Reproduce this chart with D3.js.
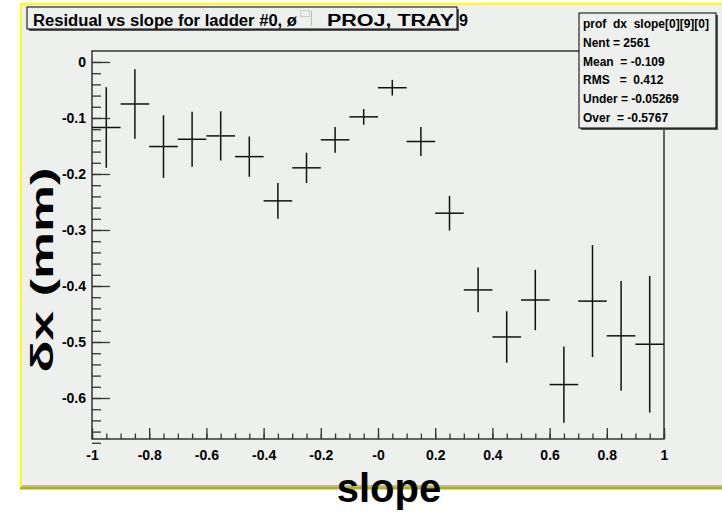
<!DOCTYPE html>
<html>
<head>
<meta charset="utf-8">
<script src="https://cdn.jsdelivr.net/npm/d3@7"></script>
<style>
  body { margin: 0; background: #fff; }
  svg text { font-family: "Liberation Sans", Arial, sans-serif; font-weight: bold; }
</style>
</head>
<body>
<div class="chart"></div>
<script>
// profile bins: slope from -1 to 1, 20 bins
const binCenters = [-0.95, -0.85, -0.75, -0.65, -0.55, -0.45, -0.35, -0.25, -0.15, -0.05,
                    0.05, 0.15, 0.25, 0.35, 0.45, 0.55, 0.65, 0.75, 0.85, 0.95];
const binMeans = [-0.117, -0.075, -0.151, -0.138, -0.132, -0.169, -0.248, -0.189, -0.139, -0.098,
                  -0.046, -0.142, -0.270, -0.407, -0.491, -0.425, -0.576, -0.427, -0.489, -0.504];
const binErrors = [0.072, 0.062, 0.056, 0.049, 0.044, 0.036, 0.032, 0.027, 0.023, 0.014,
                   0.014, 0.026, 0.031, 0.040, 0.046, 0.054, 0.068, 0.100, 0.098, 0.122];
const binHalfWidth = 0.05;

const xTicks = [-1, -0.8, -0.6, -0.4, -0.2, 0, 0.2, 0.4, 0.6, 0.8, 1];
const xTickLabels = ['-1', '-0.8', '-0.6', '-0.4', '-0.2', '-0', '0.2', '0.4', '0.6', '0.8', '1'];
const yTicks = [0, -0.1, -0.2, -0.3, -0.4, -0.5, -0.6];
const yTickLabels = ['0', '-0.1', '-0.2', '-0.3', '-0.4', '-0.5', '-0.6'];

const statsLines = ['prof  dx  slope[0][9][0]', 'Nent = 2561', 'Mean  = -0.109',
                    'RMS   =  0.412', 'Under = -0.05269', 'Over  = -0.5767'];

const W = 722, H = 512;
const bg = '#edf0ed';

const svg = d3.select('.chart').append('svg')
    .attr('width', W).attr('height', H);

// canvas background and its yellow edges
svg.append('rect').attr('x', 22).attr('y', 5).attr('width', W - 22).attr('height', 481).attr('fill', bg);
svg.append('rect').attr('x', 20).attr('y', 3).attr('width', W - 20).attr('height', 2).attr('fill', '#ffff00');
svg.append('rect').attr('x', 20).attr('y', 3).attr('width', 2).attr('height', 484).attr('fill', '#ffff00');
svg.append('rect').attr('x', 22).attr('y', 485).attr('width', W - 22).attr('height', 2).attr('fill', '#b8b8b0');
svg.append('rect').attr('x', 20).attr('y', 487).attr('width', W - 20).attr('height', 2.5).attr('fill', '#b4b400');

const x = d3.scaleLinear().domain([-1, 1]).range([92, 664]);
const y = d3.scaleLinear().domain([-0.6732, 0.0196]).range([439, 51]);

// frame
svg.append('rect')
    .attr('x', x(-1)).attr('y', y.range()[1])
    .attr('width', x(1) - x(-1)).attr('height', y.range()[0] - y.range()[1])
    .attr('fill', bg).attr('stroke', '#333').attr('stroke-width', 1.5);

// minor ticks
const xMinor = d3.range(-1, 1.0001, 0.05);
const yMinor = d3.range(0.02, -0.6801, -0.02);

svg.append('g')
    .attr('transform', `translate(0,${y.range()[0]})`)
    .call(d3.axisBottom(x).tickValues(xMinor).tickSize(-5.5).tickSizeOuter(0).tickFormat(''))
    .call(g => g.select('.domain').remove());
svg.append('g')
    .attr('transform', `translate(${x(-1)},0)`)
    .call(d3.axisLeft(y).tickValues(yMinor.filter(v => v <= 0.0196)).tickSize(-9).tickSizeOuter(0).tickFormat(''))
    .call(g => g.select('.domain').remove());

// major ticks + labels
const xAxis = svg.append('g')
    .attr('transform', `translate(0,${y.range()[0]})`)
    .call(d3.axisBottom(x).tickValues(xTicks).tickSize(-11).tickSizeOuter(0)
        .tickPadding(11).tickFormat((d, i) => xTickLabels[i]));
xAxis.select('.domain').remove();
xAxis.selectAll('text').attr('font-size', 14).attr('fill', '#000').style('font-family', '"Liberation Sans", Arial, sans-serif');

const yAxis = svg.append('g')
    .attr('transform', `translate(${x(-1)},0)`)
    .call(d3.axisLeft(y).tickValues(yTicks).tickSize(-18).tickSizeOuter(0)
        .tickPadding(6).tickFormat((d, i) => yTickLabels[i]));
yAxis.select('.domain').remove();
yAxis.selectAll('text').attr('font-size', 14).attr('fill', '#000').style('font-family', '"Liberation Sans", Arial, sans-serif');

svg.selectAll('.tick line').attr('stroke', '#333').attr('stroke-width', 1.3);

// profile points with error bars
const pts = svg.append('g').attr('stroke', '#111').attr('stroke-width', 1.5);
pts.selectAll('.hbar')
    .data(binCenters)
    .enter()
    .append('line')
    .attr('class', 'hbar')
    .attr('x1', (d) => x(d - binHalfWidth))
    .attr('x2', (d) => x(d + binHalfWidth))
    .attr('y1', (d, i) => y(binMeans[i]))
    .attr('y2', (d, i) => y(binMeans[i]));
pts.selectAll('.vbar')
    .data(binCenters)
    .enter()
    .append('line')
    .attr('class', 'vbar')
    .attr('x1', (d) => x(d))
    .attr('x2', (d) => x(d))
    .attr('y1', (d, i) => y(binMeans[i] + binErrors[i]))
    .attr('y2', (d, i) => y(binMeans[i] - binErrors[i]));

// title box
const tb = svg.append('g');
tb.append('rect').attr('x', 29).attr('y', 9).attr('width', 430).attr('height', 22).attr('fill', '#555');
tb.append('rect').attr('x', 27).attr('y', 7).attr('width', 430).attr('height', 22)
    .attr('fill', bg).attr('stroke', '#000').attr('stroke-width', 1);
tb.append('text').attr('x', 33).attr('y', 26).attr('font-size', 16)
    .attr('textLength', 264).attr('lengthAdjust', 'spacingAndGlyphs')
    .text('Residual vs slope for ladder #0, ø');
tb.append('rect').attr('x', 300.5).attr('y', 10.5).attr('width', 9).attr('height', 6)
    .attr('fill', 'none').attr('stroke', '#999').attr('stroke-width', 0.8).attr('stroke-dasharray', '1,1');
tb.append('line').attr('x1', 311.5).attr('x2', 311.5).attr('y1', 11).attr('y2', 26)
    .attr('stroke', '#bbb').attr('stroke-width', 1);
tb.append('text').attr('x', 327).attr('y', 26).attr('font-size', 16)
    .attr('textLength', 127).attr('lengthAdjust', 'spacingAndGlyphs')
    .text('PROJ, TRAY');
svg.append('text').attr('x', 459).attr('y', 26).attr('font-size', 16).text('9');

// stats box
const sb = svg.append('g');
sb.append('rect').attr('x', 581).attr('y', 15).attr('width', 137).attr('height', 115).attr('fill', '#555');
sb.append('rect').attr('x', 579).attr('y', 13).attr('width', 137).attr('height', 115)
    .attr('fill', bg).attr('stroke', '#000').attr('stroke-width', 1);
sb.selectAll('.stat')
    .data(statsLines)
    .enter()
    .append('text')
    .attr('class', 'stat')
    .attr('x', 583)
    .attr('y', (d, i) => 28 + i * 18.8)
    .attr('font-size', 12)
    .style('white-space', 'pre')
    .text(d => d);

// axis titles
svg.append('text')
    .attr('transform', 'translate(53,270) rotate(-90)')
    .attr('text-anchor', 'middle')
    .attr('font-size', 32)
    .attr('textLength', 205).attr('lengthAdjust', 'spacingAndGlyphs')
    .text('δx (mm)');
svg.append('text')
    .attr('x', 389).attr('y', 502)
    .attr('text-anchor', 'middle')
    .attr('font-size', 40)
    .text('slope');
</script>
</body>
</html>
